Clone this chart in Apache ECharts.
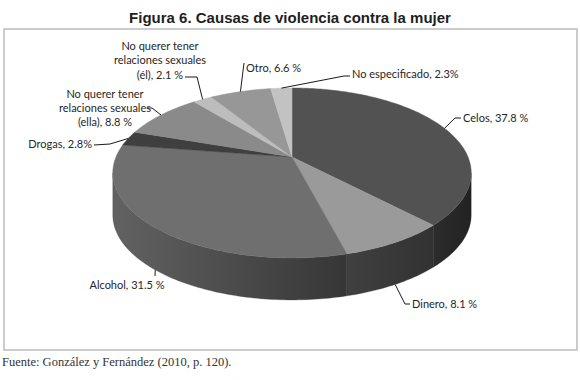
<!DOCTYPE html>
<html>
<head>
<meta charset="utf-8">
<script src="https://cdn.jsdelivr.net/npm/echarts@6/dist/echarts.min.js"></script>
<style>
html,body{margin:0;padding:0;background:#fff;}
#chart{width:580px;height:380px;}
</style>
</head>
<body>
<div id="chart"></div>
<script>
// ---- data ----
const categories = ['Celos', 'Dinero', 'Alcohol', 'Drogas',
  'No querer tener relaciones sexuales (ella)', 'No querer tener relaciones sexuales (él)',
  'Otro', 'No especificado'];
const values = [37.8, 8.1, 31.5, 2.8, 8.8, 2.1, 6.6, 2.3];
const labelTexts = ['Celos, 37.8 %', 'Dinero, 8.1 %', 'Alcohol, 31.5 %', 'Drogas, 2.8%',
  'No querer tener\nrelaciones sexuales\n(ella), 8.8 %',
  'No querer tener\nrelaciones sexuales\n(él), 2.1 %',
  'Otro, 6.6 %', 'No especificado, 2.3%'];
const titleText = 'Figura 6. Causas de violencia contra la mujer';
const sourceText = 'Fuente: González y Fernández (2010, p. 120).';

// ---- styles ----
const topColors = ['#525252', '#9a9a9a', '#6f6f6f', '#3f3f3f', '#8a8a8a', '#bdbdbd', '#979797', '#c2c2c2'];
const wallColors = [['#2c2c2c', '#222222'], ['#404040', '#323232'], ['#626262', '#363636'],
  ['#333', '#333'], ['#555', '#555'], ['#777', '#777'], ['#666', '#666'], ['#888', '#888']];

// ---- geometry of the tilted pie (perspective ellipse) ----
const geo = { cx: 292, rx: 176, a: 52.44, b: 157, k: -0.188, depth: 42 };
function proj(theta) {
  const u = Math.sin(theta), v = -Math.cos(theta);
  const d = 1 + geo.k * v;
  return [geo.cx + geo.rx * u / d, (geo.a * v + geo.b) / d];
}
const wallFrom = Math.acos(geo.k);            // leftmost / rightmost silhouette angles
const wallTo = 2 * Math.PI - Math.acos(geo.k);

// label layout (text anchor, alignment, leader bends; leader start comes from slice geometry)
const labelLayout = [
  { x: 463, y: 117, align: 'left', lh: 14, wall: false, bends: [[455, 118], [461, 118]] },
  { x: 412, y: 303, align: 'left', lh: 14, wall: true, bends: [[405, 304], [410, 304]] },
  { x: 127, y: 284, align: 'center', lh: 14, wall: true, bends: [[155, 276]] },
  { x: 92, y: 143, align: 'right', lh: 14, wall: false, bends: [[110, 144], [94, 145]] },
  { x: 105, y: 107, align: 'center', lh: 14, wall: false, bends: [[152, 108], [147, 108]] },
  { x: 160, y: 59.5, align: 'center', lh: 14.5, wall: false, bends: [[197, 77], [185, 77]] },
  { x: 246, y: 67, align: 'left', lh: 14, wall: false, bends: [[244, 63]] },
  { x: 352, y: 73, align: 'left', lh: 14, wall: false, bends: [[344, 76], [350, 76]] }
];

const total = values.reduce((s, v) => s + v, 0);
const starts = [];
values.reduce((acc, v, i) => { starts[i] = acc; return acc + v; }, 0);

function arcPoints(t1, t2, dy) {
  const pts = [];
  const n = Math.max(2, Math.ceil((t2 - t1) / (Math.PI / 180)));
  for (let j = 0; j <= n; j++) {
    const p = proj(t1 + (t2 - t1) * j / n);
    pts.push([p[0], p[1] + dy]);
  }
  return pts;
}

function renderItem(params, api) {
  const i = params.dataIndex;
  const val = api.value(0);
  const t1 = starts[i] / total * 2 * Math.PI;
  const t2 = t1 + val / total * 2 * Math.PI;
  const children = [];
  // side wall (front part only)
  const w1 = Math.max(t1, wallFrom), w2 = Math.min(t2, wallTo);
  if (w2 > w1) {
    const topArc = arcPoints(w1, w2, 0);
    const botArc = arcPoints(w1, w2, geo.depth).reverse();
    const xs = topArc.map(p => p[0]);
    const gx1 = Math.min(...xs), gx2 = Math.max(...xs);
    children.push({
      type: 'polygon', z2: 10,
      shape: { points: topArc.concat(botArc) },
      style: {
        fill: new echarts.graphic.LinearGradient(gx1, 0, gx2, 0, [
          { offset: 0, color: wallColors[i][0] }, { offset: 1, color: wallColors[i][1] }], true),
        stroke: wallColors[i][1], lineWidth: 0.3
      }
    });
  }
  // top face
  const apex = proj(0); apex[1] = geo.b;
  const face = [[geo.cx, geo.b]].concat(arcPoints(t1, t2, 0));
  children.push({
    type: 'polygon', z2: 20,
    shape: { points: face },
    style: { fill: topColors[i], stroke: topColors[i], lineWidth: 0.5 }
  });
  // leader line + label
  const L = labelLayout[i];
  const mid = (t1 + t2) / 2;
  const s = proj(mid);
  if (L.wall) s[1] += geo.depth;
  const pts = [s].concat(L.bends);
  children.push({
    type: 'polyline', z2: 30,
    shape: { points: pts },
    style: { stroke: '#1a1a1a', lineWidth: 1, fill: null }
  });
  children.push({
    type: 'text', z2: 40,
    style: {
      text: labelTexts[i], x: L.x, y: L.y,
      align: L.align, verticalAlign: 'middle',
      font: '11px Lato', fill: '#262626', lineHeight: L.lh
    }
  });
  return { type: 'group', children: children };
}

const chart = echarts.init(document.getElementById('chart'), null, { renderer: 'svg' });
chart.setOption({
  backgroundColor: '#ffffff',
  animation: false,
  title: {
    text: titleText, left: 'center', top: 5,
    textStyle: { fontFamily: 'Liberation Sans', fontSize: 15, fontWeight: 'bold', color: '#1e1e1e' }
  },
  graphic: [
    { type: 'rect', shape: { x: 4, y: 29, width: 573, height: 321 },
      style: { fill: 'none', stroke: '#bcbcbc', lineWidth: 1.5 }, z: -1 },
    { type: 'text', left: 2, top: 355,
      style: { text: sourceText, font: '12.5px "Liberation Serif"', fill: '#333' } }
  ],
  series: [{
    type: 'custom',
    coordinateSystem: 'none',
    renderItem: renderItem,
    data: values.map((v, i) => ({ name: categories[i], value: [v] }))
  }]
});
</script>
</body>
</html>
